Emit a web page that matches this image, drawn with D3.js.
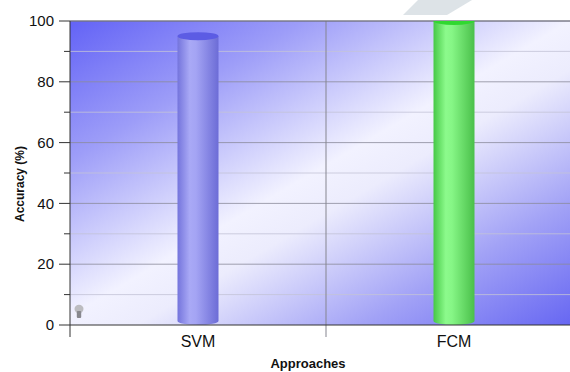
<!DOCTYPE html>
<html>
<head>
<meta charset="utf-8">
<script src="https://cdn.jsdelivr.net/npm/d3@7"></script>
<style>
  body { margin: 0; background: #fff; }
  svg { display: block; font-family: "Liberation Sans", Arial, sans-serif; }
</style>
</head>
<body>
<svg id="chart" width="570" height="372"></svg>
<script>
// data
var categories = ["SVM", "FCM"];
var accuracy = [95, 100];
var barColors = ["blue", "green"];
var yTicks = [0, 20, 40, 60, 80, 100];
var yMinor = [10, 30, 50, 70, 90];

var svg = d3.select("#chart");
var plotL = 70, plotR = 582, plotT = 21, plotB = 325;

var x = d3.scaleBand().domain(categories).range([plotL, plotR]).padding(0);
var y = d3.scaleLinear().domain([0, 100]).range([plotB, plotT]);

var defs = svg.append("defs");

// plot background: blue corners, white diagonal gloss
var bg = defs.append("linearGradient").attr("id", "bg")
  .attr("gradientUnits", "userSpaceOnUse")
  .attr("x1", 198).attr("y1", -49).attr("x2", 462).attr("y2", 399);
[[0, "#6565f6"], [0.22, "#9d9df8"], [0.48, "#f2f2ff"], [0.56, "#ececfd"], [0.78, "#a2a2f6"], [1, "#6262f2"]]
  .forEach(function(s){ bg.append("stop").attr("offset", s[0]).attr("stop-color", s[1]); });

var shades = {
  blue: {side: [["0", "#7474dc"], ["0.3", "#a9a9f6"], ["0.45", "#a4a4f4"], ["1", "#6c6cd6"]], top: "#5c5ce4"},
  green: {side: [["0", "#46c846"], ["0.3", "#8cfa8c"], ["0.45", "#86f686"], ["1", "#4ac04a"]], top: "#30d830"}
};
Object.keys(shades).forEach(function(k){
  var g = defs.append("linearGradient").attr("id", "cyl-" + k)
    .attr("x1", 0).attr("y1", 0).attr("x2", 1).attr("y2", 0);
  shades[k].side.forEach(function(s){ g.append("stop").attr("offset", s[0]).attr("stop-color", s[1]); });
});

defs.append("clipPath").attr("id", "plotclip").append("rect")
  .attr("x", plotL).attr("y", plotT).attr("width", plotR - plotL).attr("height", plotB - plotT);

// faint watermark shape at top
svg.append("polygon").attr("points", "403,15 447,15 472,0 418,0").attr("fill", "#dde3e7");

svg.append("rect").attr("x", plotL).attr("y", plotT)
  .attr("width", plotR - plotL).attr("height", plotB - plotT).attr("fill", "url(#bg)");

// gridlines
svg.selectAll(".minor").data(yMinor).enter().append("line")
  .attr("x1", plotL).attr("x2", plotR).attr("y1", function(d){ return y(d); }).attr("y2", function(d){ return y(d); })
  .attr("stroke", "#c4c4d8").attr("stroke-width", 1).attr("opacity", 0.8);
svg.selectAll(".major").data(yTicks.slice(1)).enter().append("line")
  .attr("x1", plotL).attr("x2", plotR).attr("y1", function(d){ return y(d); }).attr("y2", function(d){ return y(d); })
  .attr("stroke", "#8c8c9c").attr("stroke-width", 1).attr("opacity", 0.8);
svg.append("line").attr("x1", x("FCM")).attr("x2", x("FCM")).attr("y1", plotT).attr("y2", plotB + 12)
  .attr("stroke", "#85858f");
svg.append("line").attr("x1", plotL).attr("x2", plotR).attr("y1", plotT).attr("y2", plotT).attr("stroke", "#6a6a78");

// cylinders
var bw = 41, ry = 4;
var bars = svg.append("g").attr("clip-path", "url(#plotclip)");
categories.forEach(function(c, i){
  var cx = x(c) + x.bandwidth() / 2, x0 = cx - bw / 2, yt = y(accuracy[i]), yb = y(0);
  var k = barColors[i];
  bars.append("path")
    .attr("d", "M" + x0 + "," + yt + " L" + x0 + "," + (yb - ry) +
      " A" + (bw / 2) + "," + ry + " 0 0 0 " + (x0 + bw) + "," + (yb - ry) +
      " L" + (x0 + bw) + "," + yt + " Z")
    .attr("fill", "url(#cyl-" + k + ")");
  bars.append("ellipse").attr("cx", cx).attr("cy", yt).attr("rx", bw / 2).attr("ry", ry)
    .attr("fill", shades[k].top);
});

// little bulb marker near origin
var bulb = svg.append("g").attr("transform", "translate(79,309)");
bulb.append("ellipse").attr("cx", 0).attr("cy", 0).attr("rx", 4.5).attr("ry", 4.2).attr("fill", "#bcbcc0");
bulb.append("rect").attr("x", -2.2).attr("y", 2).attr("width", 4.4).attr("height", 7).attr("rx", 1).attr("fill", "#88888e");

// axes
var yAxis = svg.append("g").attr("transform", "translate(" + plotL + ",0)");
yAxis.append("line").attr("x1", 0).attr("x2", 0).attr("y1", plotT).attr("y2", plotB + 12).attr("stroke", "#333");
yAxis.selectAll(".mt").data(yTicks).enter().append("line")
  .attr("x1", -11).attr("x2", 0).attr("y1", function(d){ return y(d); }).attr("y2", function(d){ return y(d); })
  .attr("stroke", "#333");
yAxis.selectAll(".nt").data(yMinor).enter().append("line")
  .attr("x1", -6).attr("x2", 0).attr("y1", function(d){ return y(d); }).attr("y2", function(d){ return y(d); })
  .attr("stroke", "#333");
yAxis.selectAll("text").data(yTicks).enter().append("text")
  .attr("x", -16).attr("y", function(d){ return y(d); }).attr("dy", "0.35em")
  .attr("text-anchor", "end").attr("font-size", 15).attr("fill", "#111")
  .text(function(d){ return d; });

svg.append("line").attr("x1", plotL).attr("x2", plotR).attr("y1", plotB).attr("y2", plotB).attr("stroke", "#333");

svg.selectAll(".cat").data(categories).enter().append("text")
  .attr("x", function(d){ return x(d) + x.bandwidth() / 2; }).attr("y", 347)
  .attr("text-anchor", "middle").attr("font-size", 16).attr("fill", "#111")
  .text(function(d){ return d; });

svg.append("text").attr("x", 308).attr("y", 368).attr("text-anchor", "middle")
  .attr("font-size", 13).attr("font-weight", "bold").attr("fill", "#111").text("Approaches");
svg.append("text").attr("transform", "translate(24,184) rotate(-90)").attr("text-anchor", "middle")
  .attr("font-size", 12).attr("font-weight", "bold").attr("fill", "#111").text("Accuracy (%)");
</script>
</body>
</html>
